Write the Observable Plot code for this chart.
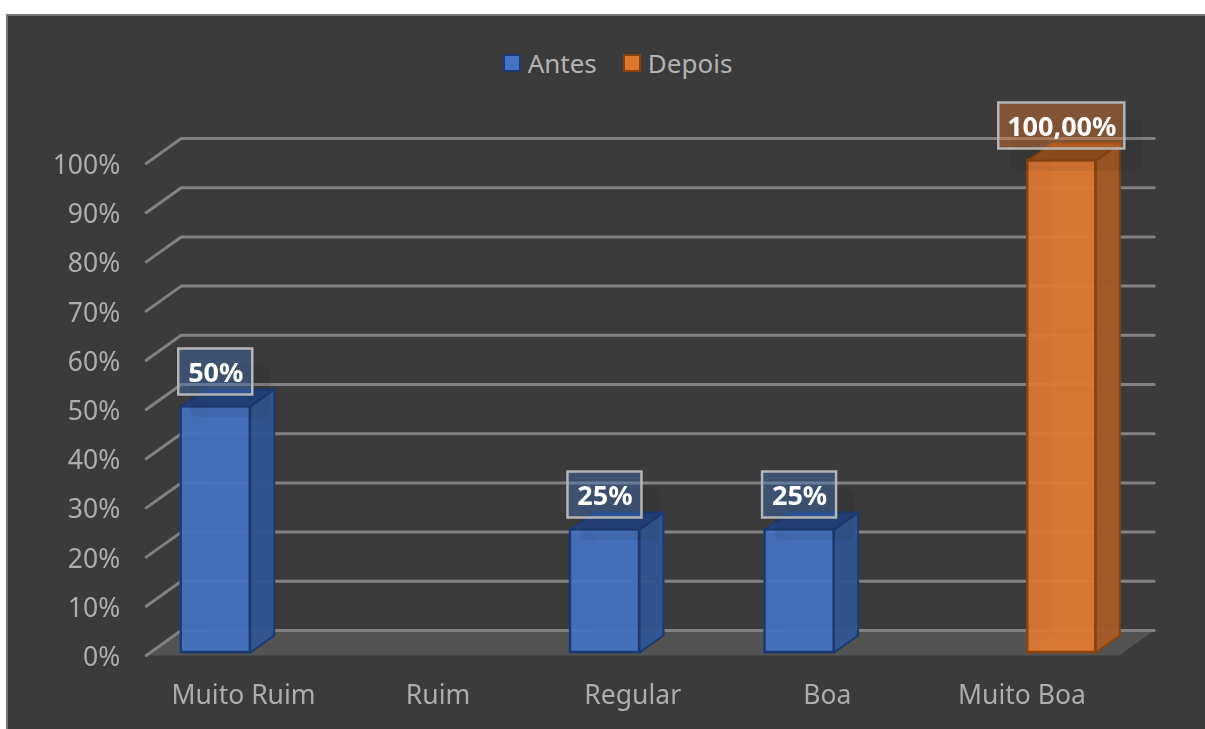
<!DOCTYPE html>
<html lang="pt">
<head>
<meta charset="utf-8">
<script src="https://cdn.jsdelivr.net/npm/d3@7"></script>
<script src="https://cdn.jsdelivr.net/npm/@observablehq/plot@0.6"></script>
<style>
html,body{margin:0;padding:0;background:#fff;overflow:hidden;width:1205px;height:729px}
#chart{position:absolute;left:6px;top:14px;width:1199px;height:715px;background:#3b3b3b;box-shadow:inset 2px 2px 0 #767676;font-family:"Noto Sans",sans-serif}
#legend{box-sizing:border-box;height:76px;padding:22px 0 0 24px;display:flex;justify-content:center;align-items:center;color:#b3b3b3;font-size:26px;line-height:54px}
#legend i{display:inline-block;box-sizing:border-box;width:18px;height:18px;margin-right:7px;border:2px solid}
#legend span{display:flex;align-items:center}
#legend span+span{margin-left:26px}
svg{display:block;filter:blur(0.4px)}
</style>
</head>
<body>
<div id="chart"><div id="legend"></div></div>
<script>
const categories = ["Muito Ruim", "Ruim", "Regular", "Boa", "Muito Boa"];
const antes = [50, null, 25, 25, null];
const depois = [null, null, null, null, 100];
const percentTicks = [0, 10, 20, 30, 40, 50, 60, 70, 80, 90, 100];
const antesStyle = {name: "Antes", front: "#4472bf", side: "#2f5590", top: "#24427e", stroke: "#1d3a72", box: "#4472c4", swatch: "#4472c4", span: [-0.32, 0.035], halfBox: 37, shadowW: 80, fmt: v => v + "%"};
const depoisStyle = {name: "Depois", front: "#e07833", side: "#a45a28", top: "#96501e", stroke: "#8a430f", box: "#ed7d31", swatch: "#e0772f", span: [0.03, 0.38], halfBox: 63, shadowW: 132, fmt: v => v.toFixed(2).replace(".", ",") + "%"};

const WALL_DX = 0.18, WALL_DY = 5.08, BAR_DX = 0.123, BAR_DY = 3.46, LIFT = -3;
const lo = -0.5, hi = 4.5;

const legend = document.getElementById("legend");
for (const s of [antesStyle, depoisStyle]) {
  const el = document.createElement("span");
  el.innerHTML = `<i style="background:${s.swatch};border-color:${s.stroke}"></i>${s.name}`;
  legend.appendChild(el);
}

const floor = [[lo, 0], [hi, 0], [hi + WALL_DX, WALL_DY], [lo + WALL_DX, WALL_DY]];
const grid = percentTicks.flatMap(t => [
  {t, x: lo, y: t},
  {t, x: lo + WALL_DX, y: t + WALL_DY},
  {t, x: hi + WALL_DX, y: t + WALL_DY}
]);

function barMarks(values, s) {
  const rows = values.map((v, i) => v == null ? null : {i, v, x1: i + s.span[0], x2: i + s.span[1], label: s.fmt(v)}).filter(Boolean);
  const face = fn => rows.flatMap(r => { const p = fn(r); return [...p, p[0]].map(q => ({i: r.i, x: q[0], y: q[1]})); });
  const poly = (fn, fill, fillOpacity, strokeOpacity = 1) => Plot.line(face(fn), {
    x: "x", y: "y", z: "i", fill, fillOpacity, stroke: s.stroke, strokeOpacity, strokeWidth: 2, dy: LIFT, curve: "linear", strokeLinejoin: "round"
  });
  const cx = r => (r.x1 + r.x2) / 2;
  return [
    poly(r => [[r.x1 + BAR_DX, BAR_DY], [r.x2 + BAR_DX, BAR_DY], [r.x2 + BAR_DX, r.v + BAR_DY], [r.x1 + BAR_DX, r.v + BAR_DY]], s.front, 0.35, 0.35),
    poly(r => [[r.x1, 0], [r.x2, 0], [r.x2 + BAR_DX, BAR_DY], [r.x1 + BAR_DX, BAR_DY]], s.front, 0.5, 0.35),
    Plot.rect(rows, {x1: "x1", x2: "x2", y1: 0, y2: "v", fill: s.front, fillOpacity: 0.92, stroke: s.stroke, strokeWidth: 2.5, dy: LIFT}),
    poly(r => [[r.x2, 0], [r.x2 + BAR_DX, BAR_DY], [r.x2 + BAR_DX, r.v + BAR_DY], [r.x2, r.v]], s.side, 0.95),
    poly(r => [[r.x1, r.v], [r.x2, r.v], [r.x2 + BAR_DX, r.v + BAR_DY], [r.x1 + BAR_DX, r.v + BAR_DY]], s.top, 0.97),
    Plot.rect(rows, {x1: cx, x2: cx, y1: "v", y2: "v", insetLeft: -s.shadowW / 2, insetRight: -s.shadowW / 2, insetTop: -26, insetBottom: -26, dx: 15, dy: -18, fill: "#000", fillOpacity: 0.06, rx: 8}),
    Plot.rect(rows, {x1: cx, x2: cx, y1: "v", y2: "v", insetLeft: -s.halfBox, insetRight: -s.halfBox, insetTop: -23, insetBottom: -23, dy: -37.5, fill: s.box, fillOpacity: 0.4, stroke: "#b5b5b5", strokeWidth: 2.5}),
    Plot.text(rows, {x: cx, y: "v", text: "label", dy: -36.5, fill: "#fff", fontSize: 27, fontWeight: 700, fontFamily: "Noto Sans"})
  ];
}

const chart = Plot.plot({
  width: 1199, height: 639,
  marginLeft: 139.7, marginRight: 86.3, marginTop: 73, marginBottom: 74,
  style: {background: "transparent", fontFamily: "Noto Sans", overflow: "visible"},
  x: {domain: [lo, hi], axis: null},
  y: {domain: [0, 100], axis: null},
  marks: [
    Plot.line([...floor, floor[0]], {x: d => d[0], y: d => d[1], fill: "#535353", stroke: "none", curve: "linear"}),
    Plot.line(grid, {x: "x", y: "y", z: "t", stroke: "#818181", strokeWidth: 3, curve: "linear"}),
    Plot.axisY(percentTicks, {anchor: "left", tickSize: 0, tickPadding: 26, dy: 2, tickFormat: d => d + "%", fill: "#adadad", fontSize: 26.5, label: null}),
    Plot.axisX(d3.range(categories.length), {anchor: "bottom", tickSize: 0, tickPadding: 30, tickFormat: i => categories[i], fill: "#adadad", fontSize: 26.5, label: null}),
    ...barMarks(antes, antesStyle),
    ...barMarks(depois, depoisStyle)
  ]
});
document.getElementById("chart").appendChild(chart);
</script>
</body>
</html>
